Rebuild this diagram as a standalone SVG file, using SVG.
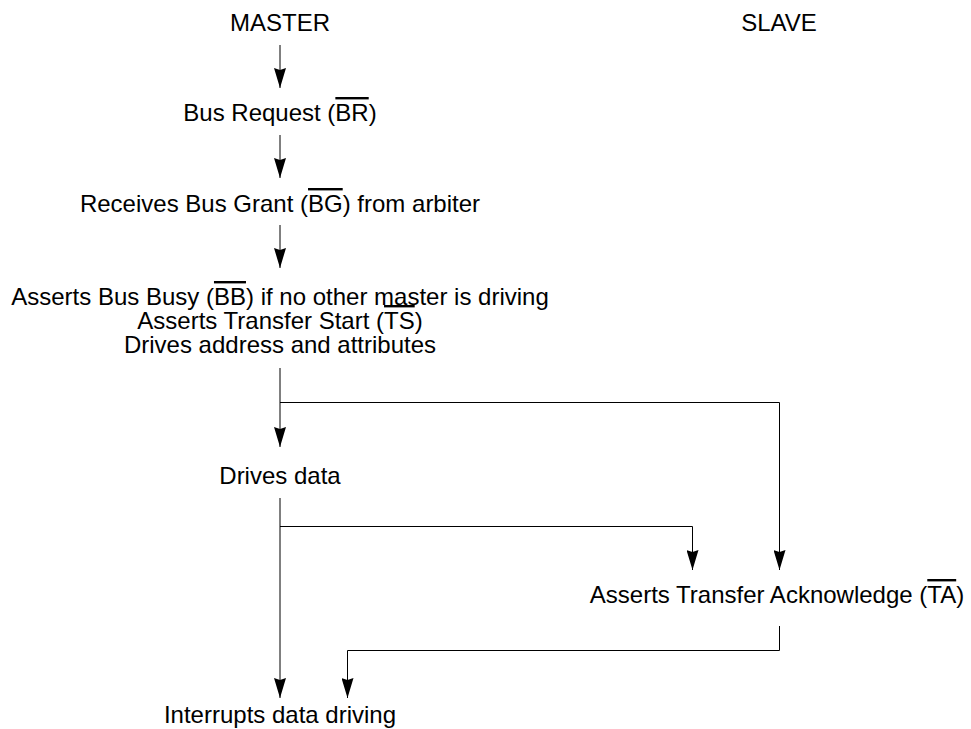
<svg xmlns="http://www.w3.org/2000/svg" width="971" height="729" viewBox="0 0 971 729">
<style>
text{font-family:"Liberation Sans",Arial,Helvetica,sans-serif;font-size:24px;fill:#000;text-anchor:middle}
.ov{text-decoration:overline}
.c{fill:none;stroke:#000;stroke-width:1}
</style>
<defs>
<marker id="ah" viewBox="0 0 20 12" refX="20" refY="6" markerWidth="20" markerHeight="12" markerUnits="userSpaceOnUse" orient="auto">
<path d="M0,0 L20,6 L0,12 L2,6 z" fill="#000"/>
</marker>
</defs>
<rect width="971" height="729" fill="#fff"/>
<g id="master"><text x="280" y="31">MASTER</text></g>
<g id="slave"><text x="779" y="31">SLAVE</text></g>
<g id="bus-request"><text x="280" y="121">Bus Request (<tspan class="ov">BR</tspan>)</text></g>
<g id="bus-grant"><text x="280" y="212">Receives Bus Grant (<tspan class="ov">BG</tspan>) from arbiter</text></g>
<g id="asserts-busy">
<text x="280" y="305">Asserts Bus Busy (<tspan class="ov">BB</tspan>) if no other master is driving</text>
<text x="280" y="329">Asserts Transfer Start (<tspan class="ov">TS</tspan>)</text>
<text x="280" y="353">Drives address and attributes</text>
</g>
<g id="drives-data"><text x="280" y="484">Drives data</text></g>
<g id="transfer-ack"><text x="777" y="603">Asserts Transfer Acknowledge (<tspan class="ov">TA</tspan>)</text></g>
<g id="interrupts"><text x="280" y="723">Interrupts data driving</text></g>
<g id="connectors">
<path class="c" d="M280,45 V88" marker-end="url(#ah)"/>
<path class="c" d="M280,135 V178" marker-end="url(#ah)"/>
<path class="c" d="M280,225 V268" marker-end="url(#ah)"/>
<path class="c" d="M280,368 V447" marker-end="url(#ah)"/>
<path class="c" d="M280,402.5 H779.5 V570" marker-end="url(#ah)"/>
<path class="c" d="M280,498 V698" marker-end="url(#ah)"/>
<path class="c" d="M280,526.5 H692.5 V570" marker-end="url(#ah)"/>
<path class="c" d="M779.5,626 V650.5 H347.5 V698" marker-end="url(#ah)"/>
</g>
</svg>
